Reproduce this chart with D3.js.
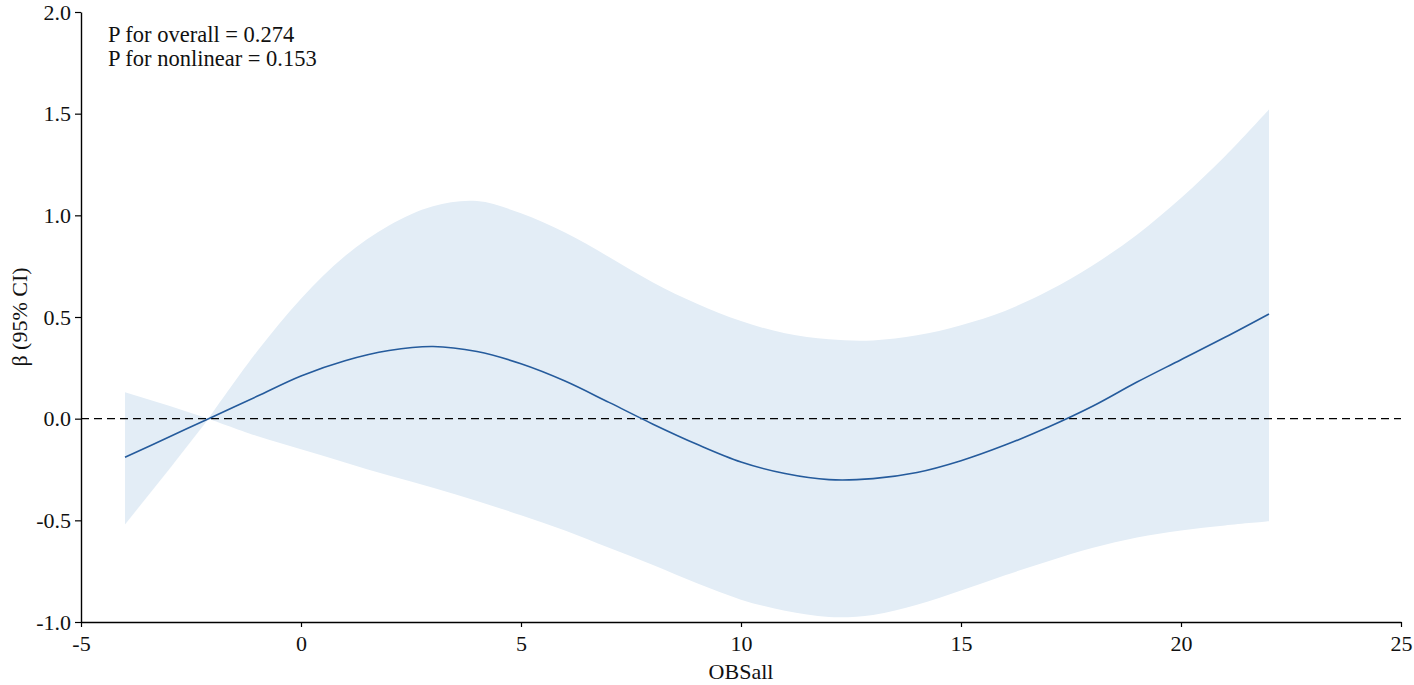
<!DOCTYPE html>
<html>
<head>
<meta charset="utf-8">
<script src="https://cdn.jsdelivr.net/npm/d3@7"></script>
<style>
  body { margin: 0; background: #fff; }
  text { font-family: "Liberation Serif", "Times New Roman", serif; fill: #111; }
</style>
</head>
<body>
<div id="chart"></div>
<script>
// Dimensions of chart.
const width = 1414;
const height = 685;
const margin = { top: 12, right: 13, bottom: 63, left: 81 };

// Data.
const xValues = [-4, -3, -2.1, -1, 0, 1, 2, 3, 4, 5, 6, 7, 8, 9, 10, 11, 12, 13, 14, 15, 16, 17, 18, 19, 20, 21, 22];
const beta = [-0.19, -0.09, 0.0, 0.11, 0.21, 0.285, 0.335, 0.355, 0.33, 0.27, 0.185, 0.08, -0.027, -0.126, -0.213, -0.27, -0.30, -0.295, -0.265, -0.207, -0.13, -0.04, 0.062, 0.18, 0.29, 0.40, 0.515];
const upper = [0.13, 0.063, 0.0, 0.33, 0.59, 0.80, 0.95, 1.045, 1.07, 1.01, 0.915, 0.795, 0.67, 0.565, 0.48, 0.42, 0.39, 0.385, 0.41, 0.46, 0.53, 0.63, 0.755, 0.905, 1.085, 1.29, 1.52];
const lower = [-0.52, -0.25, 0.0, -0.085, -0.15, -0.215, -0.28, -0.34, -0.405, -0.475, -0.55, -0.635, -0.72, -0.81, -0.89, -0.945, -0.975, -0.965, -0.915, -0.845, -0.77, -0.70, -0.635, -0.585, -0.55, -0.525, -0.505];
const pinchX = -2.1; // where the band closes
const xTicks = [-5, 0, 5, 10, 15, 20, 25];
const yTicks = [-1.0, -0.5, 0.0, 0.5, 1.0, 1.5, 2.0];
const notes = ["P for overall = 0.274", "P for nonlinear = 0.153"];

const rows = xValues.map((x, i) => ({ x: x, b: beta[i], u: upper[i], l: lower[i] }));

const svg = d3.select("#chart").append("svg")
  .attr("width", width)
  .attr("height", height);

const x = d3.scaleLinear().domain([-5, 25]).range([margin.left, width - margin.right]);
const y = d3.scaleLinear().domain([-1, 2]).range([height - margin.bottom, margin.top]);

// Hyphen instead of unicode minus, like the original.
const fmtY = d => d3.format(".1f")(d).replace("\u2212", "-");
const fmtX = d => String(d);

// Confidence band, drawn in two pieces either side of the pinch
const band = d3.area()
  .x(d => x(d.x))
  .y0(d => y(d.l))
  .y1(d => y(d.u));

svg.append("path")
  .datum(rows.filter(d => d.x <= pinchX))
  .attr("fill", "#e3edf6")
  .attr("d", band.curve(d3.curveLinear));

svg.append("path")
  .datum(rows.filter(d => d.x >= pinchX))
  .attr("fill", "#e3edf6")
  .attr("d", band.curve(d3.curveCatmullRom.alpha(0.5)));

// Reference line at zero
svg.append("line")
  .attr("x1", x(-5))
  .attr("x2", x(25))
  .attr("y1", y(0))
  .attr("y2", y(0))
  .attr("stroke", "#000")
  .attr("stroke-width", 1.4)
  .attr("stroke-dasharray", "8,5");

// Estimate line
svg.append("path")
  .datum(rows)
  .attr("fill", "none")
  .attr("stroke", "#255b9c")
  .attr("stroke-width", 1.6)
  .attr("d", d3.line()
    .x(d => x(d.x))
    .y(d => y(d.b))
    .curve(d3.curveCatmullRom.alpha(0.5)));

// Axes
const xAxis = svg.append("g")
  .attr("transform", `translate(0,${y(-1)})`)
  .call(d3.axisBottom(x).tickValues(xTicks).tickFormat(fmtX).tickSize(5).tickSizeOuter(0));

const yAxis = svg.append("g")
  .attr("transform", `translate(${x(-5)},0)`)
  .call(d3.axisLeft(y).tickValues(yTicks).tickFormat(fmtY).tickSize(6).tickSizeOuter(0));

[xAxis, yAxis].forEach(g => {
  g.select(".domain").attr("stroke", "#000").attr("stroke-width", 1.4);
  g.selectAll(".tick line").attr("stroke", "#000").attr("stroke-width", 1.2);
  g.selectAll(".tick text")
    .attr("font-family", "Liberation Serif, serif")
    .attr("font-size", 22)
    .attr("fill", "#111");
});
xAxis.selectAll(".tick text").attr("y", 13).attr("dy", "0.71em");
yAxis.selectAll(".tick text").attr("x", -10);

// Axis titles
svg.append("text")
  .attr("x", (x(-5) + x(25)) / 2)
  .attr("y", 679)
  .attr("text-anchor", "middle")
  .attr("font-size", 22)
  .text("OBSall");

svg.append("text")
  .attr("transform", `translate(27,${(y(-1) + y(2)) / 2}) rotate(-90)`)
  .attr("text-anchor", "middle")
  .attr("font-size", 22)
  .text("β (95% CI)");

// P value annotations
svg.selectAll(".note")
  .data(notes)
  .join("text")
  .attr("class", "note")
  .attr("x", 108)
  .attr("y", (d, i) => 42 + i * 24)
  .attr("font-size", 22.5)
  .text(d => d);
</script>
</body>
</html>
